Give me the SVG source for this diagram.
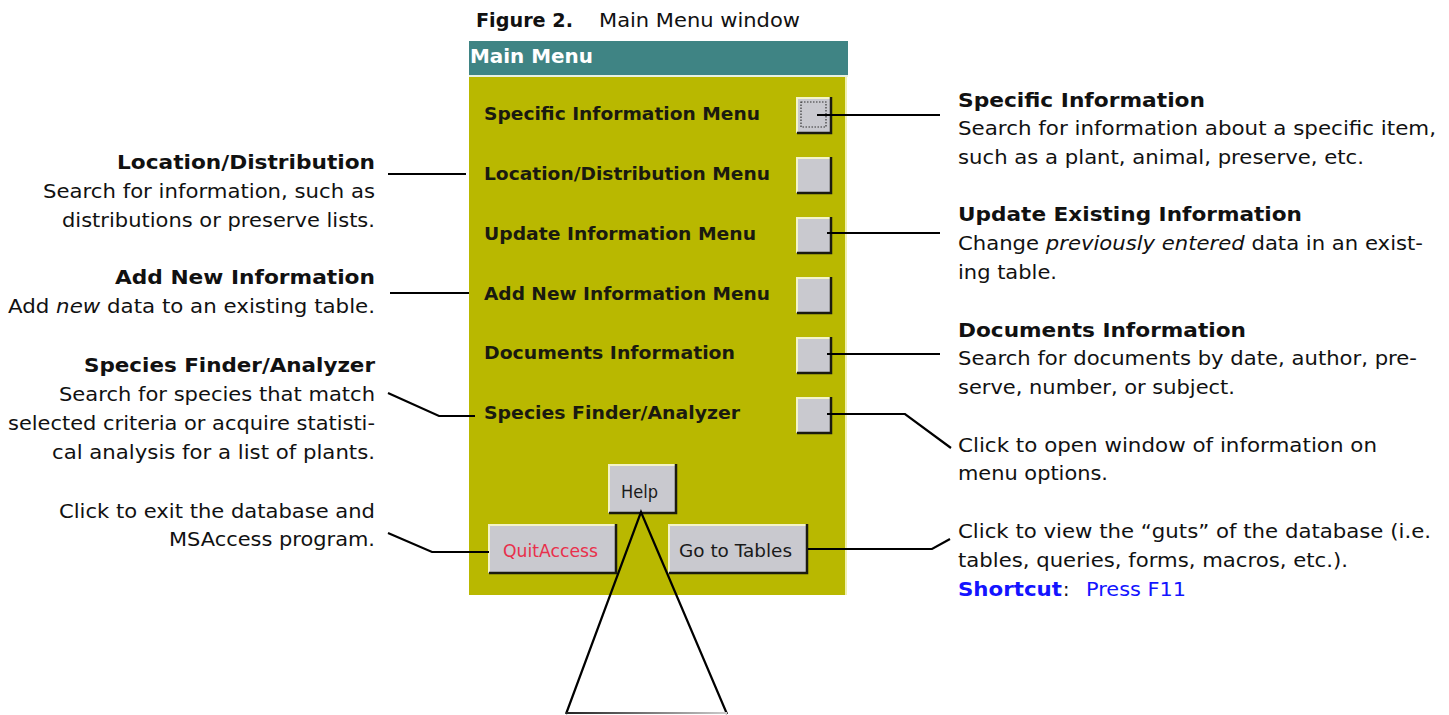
<svg xmlns="http://www.w3.org/2000/svg" width="1449" height="715" viewBox="0 0 1449 715">
  <style>
    .cap { font-family: "DejaVu Sans", "Liberation Sans", sans-serif; font-size: 19px; fill: #111; }
    .capb { font-family: "DejaVu Sans", "Liberation Sans", sans-serif; font-size: 19px; font-weight: bold; fill: #111; }
    .lbl { font-family: "DejaVu Sans", "Liberation Sans", sans-serif; font-size: 18px; font-weight: bold; fill: #1a1a10; }
    .btxt { font-family: "DejaVu Sans", "Liberation Sans", sans-serif; font-size: 17px; fill: #1a1a1a; }
    .blue { fill: #1414ff; }
    .line { stroke: #000; stroke-width: 2.2; fill: none; }
    .face { fill: #c9c9cf; }
    .hi { stroke: #f4f4c8; stroke-width: 2; fill: none; }
    .sh { stroke: #1b1b10; stroke-width: 2.5; fill: none; }
  </style>
  <defs>
    <linearGradient id="fade" gradientUnits="userSpaceOnUse" x1="566" y1="0" x2="727" y2="0">
      <stop offset="0" stop-color="#222"/>
      <stop offset="1" stop-color="#ccc"/>
    </linearGradient>
  </defs>

  <rect width="1449" height="715" fill="#fff"/>

  <!-- figure caption -->
  <g id="caption">
    <text class="capb" x="476" y="27" textLength="97" lengthAdjust="spacingAndGlyphs">Figure 2.</text>
    <text class="cap" x="599" y="27" textLength="201" lengthAdjust="spacingAndGlyphs">Main Menu window</text>
  </g>

  <!-- the Main Menu window -->
  <g id="window">
    <rect x="469" y="41" width="379" height="34" fill="#3f8484"/>
    <rect x="469" y="75" width="379" height="2" fill="#e8f0e0"/>
    <text x="470" y="63" font-family="DejaVu Sans, Liberation Sans, sans-serif" font-size="19" font-weight="bold" fill="#fff" textLength="123" lengthAdjust="spacingAndGlyphs">Main Menu</text>
    <rect x="469" y="77" width="377" height="518" fill="#b9b800"/>
    <rect x="845" y="77" width="2" height="518" fill="#f0f0b0"/>
  </g>

  <!-- menu entries with their square buttons -->
  <g id="btn-specific">
    <text class="lbl" x="484" y="120" textLength="276" lengthAdjust="spacingAndGlyphs">Specific Information Menu</text>
    <rect class="face" x="796" y="97" width="36" height="36"/>
    <polyline class="hi" points="797,132 797,98 831,98"/>
    <polyline class="sh" points="797,133 831,133 831,97"/>
    <rect x="801" y="102" width="25" height="25" fill="none" stroke="#333" stroke-width="1.2" stroke-dasharray="1.5,1.5"/>
  </g>
  <g id="btn-location">
    <text class="lbl" x="484" y="180" textLength="286" lengthAdjust="spacingAndGlyphs">Location/Distribution Menu</text>
    <rect class="face" x="796" y="157" width="36" height="36"/>
    <polyline class="hi" points="797,192 797,158 831,158"/>
    <polyline class="sh" points="797,193 831,193 831,157"/>
  </g>
  <g id="btn-update">
    <text class="lbl" x="484" y="240" textLength="272" lengthAdjust="spacingAndGlyphs">Update Information Menu</text>
    <rect class="face" x="796" y="217" width="36" height="36"/>
    <polyline class="hi" points="797,252 797,218 831,218"/>
    <polyline class="sh" points="797,253 831,253 831,217"/>
  </g>
  <g id="btn-addnew">
    <text class="lbl" x="484" y="300" textLength="286" lengthAdjust="spacingAndGlyphs">Add New Information Menu</text>
    <rect class="face" x="796" y="277" width="36" height="36"/>
    <polyline class="hi" points="797,312 797,278 831,278"/>
    <polyline class="sh" points="797,313 831,313 831,277"/>
  </g>
  <g id="btn-documents">
    <text class="lbl" x="484" y="359" textLength="251" lengthAdjust="spacingAndGlyphs">Documents Information</text>
    <rect class="face" x="796" y="337" width="36" height="36"/>
    <polyline class="hi" points="797,372 797,338 831,338"/>
    <polyline class="sh" points="797,373 831,373 831,337"/>
  </g>
  <g id="btn-species">
    <text class="lbl" x="484" y="419" textLength="256" lengthAdjust="spacingAndGlyphs">Species Finder/Analyzer</text>
    <rect class="face" x="796" y="397" width="36" height="36"/>
    <polyline class="hi" points="797,432 797,398 831,398"/>
    <polyline class="sh" points="797,433 831,433 831,397"/>
  </g>

  <!-- command buttons -->
  <g id="btn-help">
    <rect class="face" x="608" y="464" width="69" height="49"/>
    <polyline class="hi" points="609,512 609,465 676,465"/>
    <polyline class="sh" points="609,513 676,513 676,464"/>
    <text class="btxt" x="621" y="498" textLength="37" lengthAdjust="spacingAndGlyphs">Help</text>
  </g>
  <g id="btn-quit">
    <rect class="face" x="488" y="524" width="129" height="49"/>
    <polyline class="hi" points="489,572 489,525 616,525"/>
    <polyline class="sh" points="489,573 616,573 616,524"/>
    <text class="btxt" x="503" y="557" style="fill:#e8304c" textLength="95" lengthAdjust="spacingAndGlyphs">QuitAccess</text>
  </g>
  <g id="btn-tables">
    <rect class="face" x="668" y="524" width="140" height="49"/>
    <polyline class="hi" points="669,572 669,525 807,525"/>
    <polyline class="sh" points="669,573 807,573 807,524"/>
    <text class="btxt" x="679" y="557" textLength="113" lengthAdjust="spacingAndGlyphs">Go to Tables</text>
  </g>

  <!-- left-hand notes -->
  <g id="note-location" text-anchor="end">
    <text class="capb" x="375" y="169" textLength="258" lengthAdjust="spacingAndGlyphs">Location/Distribution</text>
    <text class="cap" x="375" y="198" textLength="332" lengthAdjust="spacingAndGlyphs">Search for information, such as</text>
    <text class="cap" x="375" y="227" textLength="313" lengthAdjust="spacingAndGlyphs">distributions or preserve lists.</text>
  </g>
  <g id="note-addnew" text-anchor="end">
    <text class="capb" x="375" y="284" textLength="260" lengthAdjust="spacingAndGlyphs">Add New Information</text>
    <text class="cap" x="375" y="313" textLength="367" lengthAdjust="spacingAndGlyphs">Add <tspan font-style="italic">new</tspan> data to an existing table.</text>
  </g>
  <g id="note-species" text-anchor="end">
    <text class="capb" x="375" y="372" textLength="291" lengthAdjust="spacingAndGlyphs">Species Finder/Analyzer</text>
    <text class="cap" x="375" y="401" textLength="316" lengthAdjust="spacingAndGlyphs">Search for species that match</text>
    <text class="cap" x="375" y="430" textLength="367" lengthAdjust="spacingAndGlyphs">selected criteria or acquire statisti-</text>
    <text class="cap" x="375" y="459" textLength="323" lengthAdjust="spacingAndGlyphs">cal analysis for a list of plants.</text>
  </g>
  <g id="note-quit" text-anchor="end">
    <text class="cap" x="375" y="518" textLength="316" lengthAdjust="spacingAndGlyphs">Click to exit the database and</text>
    <text class="cap" x="375" y="546" textLength="206" lengthAdjust="spacingAndGlyphs">MSAccess program.</text>
  </g>

  <!-- right-hand notes -->
  <g id="note-specific">
    <text class="capb" x="958" y="107" textLength="247" lengthAdjust="spacingAndGlyphs">Specific Information</text>
    <text class="cap" x="958" y="135" textLength="478" lengthAdjust="spacingAndGlyphs">Search for information about a specific item,</text>
    <text class="cap" x="958" y="164" textLength="406" lengthAdjust="spacingAndGlyphs">such as a plant, animal, preserve, etc.</text>
  </g>
  <g id="note-update">
    <text class="capb" x="958" y="221" textLength="344" lengthAdjust="spacingAndGlyphs">Update Existing Information</text>
    <text class="cap" x="958" y="250" textLength="465" lengthAdjust="spacingAndGlyphs">Change <tspan font-style="italic">previously entered</tspan> data in an exist-</text>
    <text class="cap" x="958" y="279" textLength="99" lengthAdjust="spacingAndGlyphs">ing table.</text>
  </g>
  <g id="note-documents">
    <text class="capb" x="958" y="337" textLength="288" lengthAdjust="spacingAndGlyphs">Documents Information</text>
    <text class="cap" x="958" y="365" textLength="459" lengthAdjust="spacingAndGlyphs">Search for documents by date, author, pre-</text>
    <text class="cap" x="958" y="394" textLength="277" lengthAdjust="spacingAndGlyphs">serve, number, or subject.</text>
  </g>
  <g id="note-help">
    <text class="cap" x="958" y="452" textLength="419" lengthAdjust="spacingAndGlyphs">Click to open window of information on</text>
    <text class="cap" x="958" y="480" textLength="150" lengthAdjust="spacingAndGlyphs">menu options.</text>
  </g>
  <g id="note-tables">
    <text class="cap" x="958" y="538" textLength="473" lengthAdjust="spacingAndGlyphs">Click to view the “guts” of the database (i.e.</text>
    <text class="cap" x="958" y="567" textLength="390" lengthAdjust="spacingAndGlyphs">tables, queries, forms, macros, etc.).</text>
    <text class="capb blue" x="958" y="596" textLength="104" lengthAdjust="spacingAndGlyphs">Shortcut</text>
    <text class="cap" x="1063" y="596">:</text>
    <text class="cap blue" x="1086" y="596" textLength="100" lengthAdjust="spacingAndGlyphs">Press F11</text>
  </g>

  <!-- leader lines -->
  <g id="connectors">
    <line class="line" x1="817" y1="115" x2="940" y2="115"/>
    <line class="line" x1="827" y1="233" x2="940" y2="233"/>
    <line class="line" x1="827" y1="354" x2="940" y2="354"/>
    <polyline class="line" points="827,414 905,414 951,448"/>
    <polyline class="line" points="808,549 932,549 950,539"/>
    <line class="line" x1="388" y1="174" x2="466" y2="174"/>
    <line class="line" x1="390" y1="293" x2="469" y2="293"/>
    <polyline class="line" points="388,393 439,416 475,416"/>
    <polyline class="line" points="388,533 432,552 489,552"/>
    <polyline class="line" points="566,714 641,512 727,714"/>
    <line x1="566" y1="713" x2="727" y2="713" stroke="url(#fade)" stroke-width="2"/>
  </g>
</svg>
